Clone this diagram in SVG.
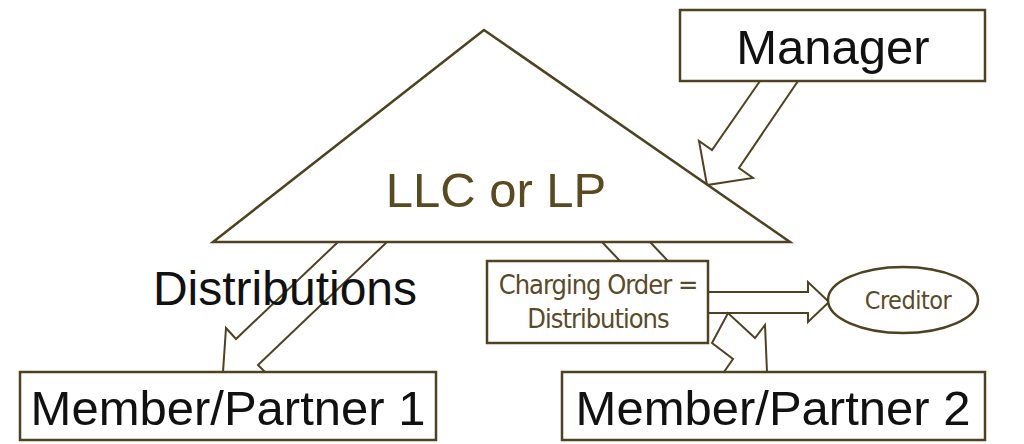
<svg xmlns="http://www.w3.org/2000/svg" width="1024" height="444" viewBox="0 0 1024 444">
<style>
.s{fill:#fff;stroke:#4f4220;stroke-width:2.5;stroke-linejoin:miter}
.a{fill:#fff;stroke:#4f4220;stroke-width:2}
.t{font-family:"Liberation Sans",Arial,sans-serif;fill:#111}
.c{font-family:"DejaVu Sans Condensed","DejaVu Sans",sans-serif;fill:#5a4a28}
</style>
<rect width="1024" height="444" fill="#fff"/>
<g id="connectors">
<polygon class="a" points="760,81 712,150 699,141 707,185 753,178 739,168 798,81"/>
<polygon class="a" points="338,242 236,339 226,328 223,372 265,372 258,365 387,242"/>
<line class="a" x1="602" y1="242" x2="620" y2="261"/>
<line class="a" x1="650" y1="242" x2="668" y2="261"/>
<polygon class="a" points="708,292 808,292 808,282 829,302 808,322 808,313 708,313"/>
<polygon class="a" points="712,343 733,359 724,372 767,372 765,325 755,338 728,313"/>
</g>
<g id="llc">
<polygon class="s" points="484,30 213,242 790,242"/>
<text class="t" x="496" y="207" font-size="49" text-anchor="middle" style="fill:#5a4a20">LLC or LP</text>
</g>
<g id="manager">
<rect class="s" x="680" y="10" width="305" height="71"/>
<text class="t" x="833" y="64" font-size="49" text-anchor="middle">Manager</text>
</g>
<g id="distributions">
<text class="t" x="285" y="305" font-size="48" text-anchor="middle">Distributions</text>
</g>
<g id="charging">
<rect class="s" x="487" y="261" width="221" height="82"/>
<text class="c" x="598" y="294" font-size="27" text-anchor="middle" letter-spacing="-1">Charging Order =</text>
<text class="c" x="598" y="328" font-size="27" text-anchor="middle" letter-spacing="-1">Distributions</text>
</g>
<g id="creditor">
<ellipse class="s" cx="903" cy="300" rx="75" ry="33"/>
<text class="c" x="908" y="309" font-size="25" text-anchor="middle" letter-spacing="-0.5">Creditor</text>
</g>
<g id="member1">
<rect class="s" x="20" y="372" width="416" height="68"/>
<text class="t" x="228" y="425" font-size="49" text-anchor="middle">Member/Partner 1</text>
</g>
<g id="member2">
<rect class="s" x="562" y="372" width="423" height="68"/>
<text class="t" x="773" y="425" font-size="49" text-anchor="middle">Member/Partner 2</text>
</g>
</svg>
